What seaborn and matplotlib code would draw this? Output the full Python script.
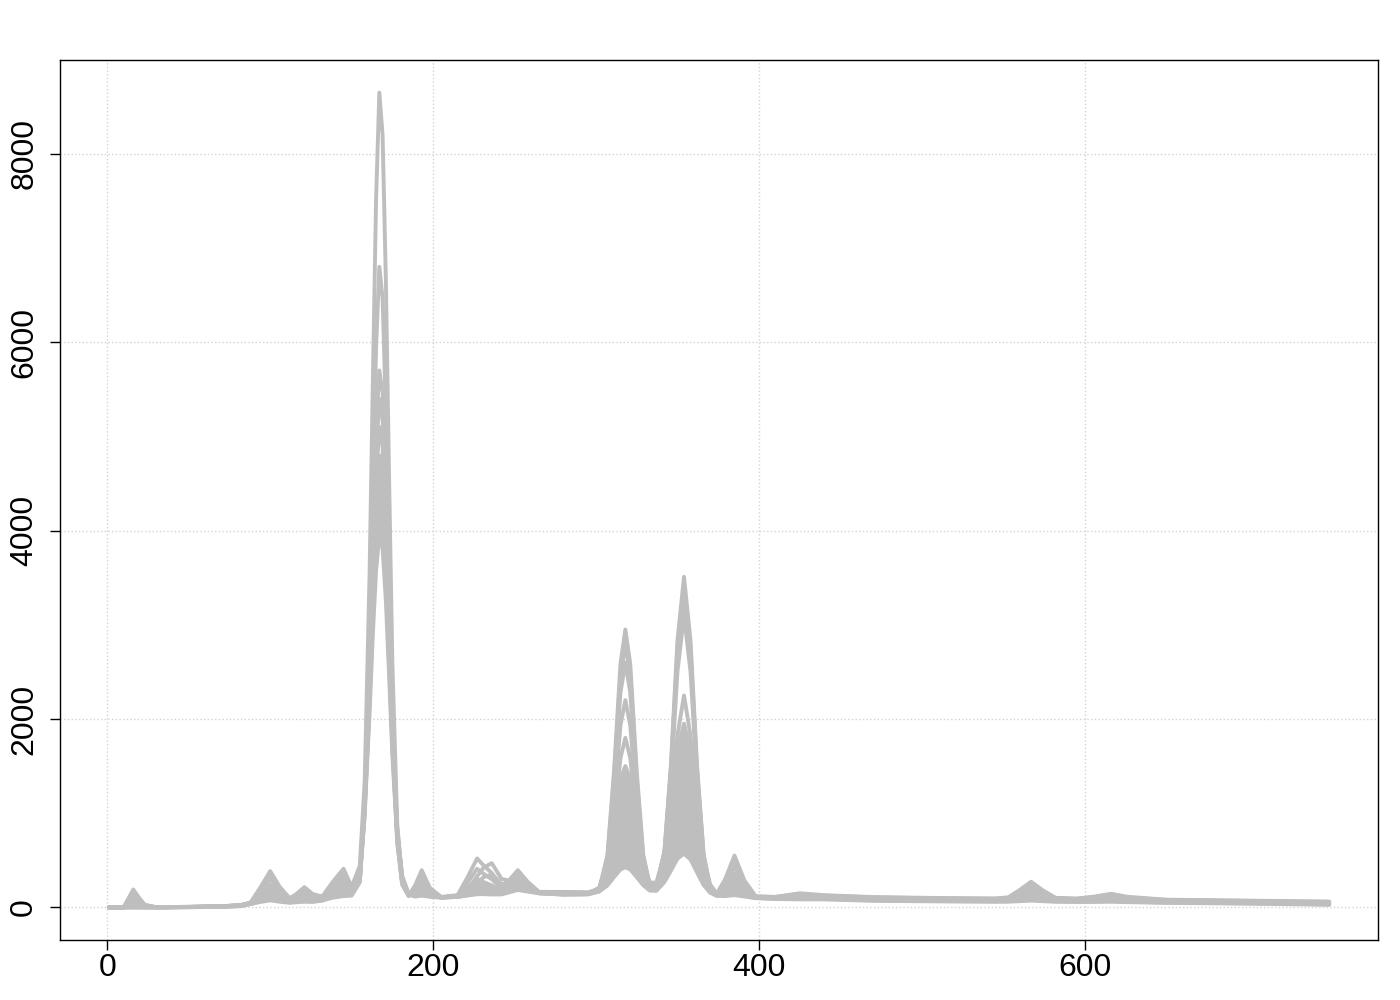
import matplotlib
matplotlib.use("Agg")
import matplotlib.pyplot as plt
import numpy as np
import pandas as pd
import seaborn as sns

# channel positions shared by every trace
channel = [1, 10, 13, 16, 19, 23, 30, 50, 70, 82,
           88, 94, 100, 106, 112, 116, 121, 126, 132, 138,
           145, 150, 155, 158, 161, 163, 165, 167, 169, 171,
           173, 175, 178, 181, 185, 189, 193, 198, 205, 215,
           221, 227, 231, 236, 242, 247, 252, 258, 265, 280,
           295, 302, 307, 311, 315, 318, 321, 325, 329, 333,
           337, 342, 346, 350, 354, 358, 362, 366, 370, 374,
           379, 385, 391, 398, 410, 425, 440, 470, 510, 545,
           553, 560, 567, 574, 582, 595, 606, 616, 626, 650,
           700, 750]

# intensity of each trace at those channels
trace_01 = [0, 0, 95, 190, 114, 28, 2, 5, 10, 22,
            52, 212, 385, 215, 97, 141, 215, 143, 115, 262,
            410, 218, 442, 1336, 3538, 5571, 7519, 8650, 8196, 6668,
            4545, 2589, 885, 277, 123, 236, 395, 208, 111, 130,
            315, 520, 445, 365, 227, 295, 395, 273, 165, 165,
            160, 193, 554, 1438, 2586, 2950, 2586, 1438, 556, 234,
            209, 546, 1358, 2511, 3100, 2501, 1338, 516, 195, 144,
            290, 550, 288, 118, 112, 150, 130, 110, 100, 95,
            107, 184, 273, 184, 102, 94, 115, 145, 113, 82,
            72, 62]
trace_02 = [0, 0, 82, 165, 99, 25, 2, 5, 10, 24,
            50, 190, 340, 192, 92, 132, 200, 135, 109, 240,
            370, 204, 378, 1082, 2814, 4412, 5943, 6800, 6467, 5263,
            3593, 2056, 719, 242, 121, 211, 340, 189, 109, 117,
            185, 330, 423, 470, 302, 284, 360, 255, 162, 160,
            156, 190, 532, 1369, 2456, 2800, 2456, 1369, 534, 231,
            217, 601, 1526, 2839, 3510, 2829, 1506, 571, 207, 143,
            270, 500, 268, 115, 110, 142, 125, 106, 96, 92,
            103, 174, 255, 174, 99, 91, 109, 135, 107, 78,
            69, 58]
trace_03 = [0, 0, 65, 130, 78, 20, 2, 6, 12, 25,
            48, 170, 300, 173, 85, 124, 185, 127, 106, 226,
            345, 195, 339, 1129, 2596, 3931, 5096, 5700, 5461, 4527,
            3244, 2015, 787, 282, 129, 193, 300, 175, 109, 125,
            260, 410, 357, 299, 202, 260, 340, 245, 160, 155,
            152, 187, 503, 1277, 2282, 2600, 2282, 1277, 505, 225,
            212, 573, 1440, 2671, 3300, 2661, 1420, 543, 201, 139,
            241, 430, 239, 112, 107, 135, 118, 100, 92, 88,
            97, 159, 230, 159, 94, 87, 102, 125, 100, 75,
            66, 55]
trace_04 = [0, 0, 45, 90, 54, 14, 1, 5, 11, 22,
            45, 140, 240, 143, 79, 116, 170, 118, 103, 212,
            320, 187, 328, 1076, 2464, 3727, 4829, 5400, 5174, 4290,
            3076, 1913, 751, 273, 128, 180, 270, 164, 108, 115,
            161, 258, 321, 350, 248, 254, 320, 235, 159, 150,
            150, 180, 445, 1093, 1934, 2200, 1934, 1093, 447, 214,
            213, 586, 1481, 2751, 3400, 2741, 1461, 556, 204, 135,
            212, 360, 210, 110, 104, 125, 112, 96, 88, 84,
            92, 144, 205, 144, 89, 82, 96, 115, 94, 72,
            63, 52]
trace_05 = [0, 0, 25, 50, 30, 8, 3, 6, 12, 24,
            43, 120, 200, 123, 73, 105, 150, 107, 99, 201,
            300, 181, 317, 1023, 2332, 3523, 4562, 5100, 4887, 4053,
            2908, 1811, 715, 264, 127, 166, 240, 154, 107, 119,
            205, 300, 269, 233, 180, 234, 300, 225, 157, 148,
            148, 173, 387, 909, 1586, 1800, 1586, 909, 389, 200,
            191, 431, 1009, 1831, 2250, 1821, 989, 401, 171, 127,
            188, 300, 186, 107, 102, 120, 108, 92, 84, 80,
            87, 130, 180, 130, 84, 78, 89, 105, 87, 68,
            60, 48]
trace_06 = [0, 0, 12, 25, 15, 4, 2, 4, 10, 20,
            41, 105, 170, 108, 68, 94, 130, 96, 94, 185,
            270, 171, 304, 970, 2200, 3319, 4295, 4800, 4600, 3816,
            2740, 1709, 679, 255, 126, 153, 210, 143, 106, 117,
            180, 250, 229, 203, 170, 221, 280, 215, 155, 145,
            146, 210, 472, 906, 1365, 1500, 1365, 906, 474, 265,
            262, 565, 1086, 1682, 1950, 1672, 1066, 534, 245, 148,
            175, 260, 169, 105, 100, 110, 102, 88, 80, 76,
            81, 116, 155, 116, 79, 74, 82, 95, 80, 64,
            56, 44]
trace_07 = [0, 0, 5, 10, 6, 2, 1, 4, 9, 18,
            40, 90, 140, 93, 62, 83, 110, 85, 88, 163,
            230, 159, 295, 1154, 2380, 3361, 4162, 4600, 4435, 3792,
            2851, 1864, 834, 338, 139, 139, 180, 133, 106, 115,
            160, 210, 197, 179, 159, 202, 250, 200, 153, 142,
            144, 198, 412, 766, 1140, 1250, 1140, 766, 414, 244,
            245, 506, 956, 1470, 1700, 1460, 936, 476, 227, 142,
            158, 220, 153, 103, 98, 105, 98, 84, 76, 72,
            76, 101, 130, 101, 74, 70, 76, 85, 74, 60,
            52, 40]
trace_08 = [0, 0, 0, 2, 1, 0, 1, 3, 8, 16,
            38, 75, 110, 78, 58, 75, 95, 77, 82, 141,
            190, 147, 285, 1109, 2280, 3217, 3982, 4400, 4242, 3628,
            2729, 1786, 802, 328, 138, 130, 160, 126, 105, 113,
            145, 180, 173, 161, 151, 189, 230, 190, 151, 140,
            142, 186, 352, 626, 915, 1000, 915, 626, 354, 224,
            226, 437, 800, 1215, 1400, 1205, 780, 407, 205, 136,
            146, 190, 141, 101, 96, 100, 95, 80, 72, 68,
            71, 89, 110, 89, 70, 66, 69, 75, 67, 56,
            48, 36]
trace_09 = [0, 0, 0, 0, 0, 0, 0, 3, 7, 15,
            37, 65, 90, 68, 54, 64, 75, 66, 76, 119,
            150, 134, 275, 1064, 2180, 3073, 3802, 4200, 4050, 3464,
            2607, 1708, 770, 318, 136, 121, 140, 119, 105, 112,
            135, 160, 157, 149, 145, 177, 210, 180, 150, 137,
            140, 174, 292, 486, 690, 750, 690, 486, 294, 202,
            201, 345, 592, 875, 1000, 865, 572, 315, 176, 127,
            132, 160, 128, 100, 93, 90, 90, 75, 68, 64,
            66, 77, 90, 77, 65, 62, 64, 68, 62, 52,
            44, 32]
trace_10 = [0, 0, 0, 0, 0, 0, 0, 2, 6, 14,
            36, 58, 75, 60, 49, 55, 60, 58, 72, 102,
            120, 125, 266, 1007, 2055, 2893, 3577, 3950, 3809, 3259,
            2454, 1611, 730, 306, 135, 115, 125, 113, 104, 111,
            125, 140, 141, 137, 138, 161, 185, 168, 150, 135,
            138, 168, 233, 321, 403, 425, 403, 321, 235, 178,
            176, 269, 391, 518, 570, 508, 371, 238, 156, 123,
            120, 130, 116, 98, 90, 85, 85, 70, 64, 60,
            61, 66, 72, 66, 60, 58, 58, 60, 56, 48,
            40, 28]

traces = [trace_01, trace_02, trace_03, trace_04, trace_05,
          trace_06, trace_07, trace_08, trace_09, trace_10]

x_ticks = [0, 200, 400, 600]
y_ticks = [0, 2000, 4000, 6000, 8000]

line_grey = "#BEBEBE"

# long format so seaborn draws one line per trace
df = pd.DataFrame({
    "channel": channel * len(traces),
    "intensity": [v for t in traces for v in t],
    "trace": np.repeat(np.arange(len(traces)), len(channel)),
})

sns.set_theme(style="white")
plt.rcParams["font.family"] = ["Liberation Sans", "DejaVu Sans"]

fig = plt.figure(figsize=(14, 10), dpi=100)
ax = fig.add_axes([0.0429, 0.06, 0.9414, 0.88])

# R-style grid: dotted light gray at the ticks, under the data
ax.set_axisbelow(True)
ax.grid(True, color="#D3D3D3", linestyle=":", linewidth=1.0)

# the lower traces overlap so densely that they read as one solid band
ax.fill_between(channel, trace_10, trace_06, color=line_grey, linewidth=0)

sns.lineplot(data=df, x="channel", y="intensity", units="trace",
             estimator=None, color=line_grey, linewidth=2.8,
             legend=False, ax=ax)

# 4% padding like base R
xmin, xmax = min(channel), max(channel)
ymin, ymax = df["intensity"].min(), df["intensity"].max()
ax.set_xlim(xmin - 0.04 * (xmax - xmin), xmax + 0.04 * (xmax - xmin))
ax.set_ylim(ymin - 0.04 * (ymax - ymin), ymax + 0.04 * (ymax - ymin))

ax.set_xticks(x_ticks)
ax.set_yticks(y_ticks)
ax.set_xticklabels([str(t) for t in x_ticks])
ax.set_yticklabels([str(t) for t in y_ticks], rotation=90, va="center")
ax.set_xlabel("")
ax.set_ylabel("")

ax.tick_params(axis="both", which="major", direction="out", length=7,
               width=1.0, color="black", labelsize=23, labelcolor="black",
               bottom=True, left=True, top=False, right=False)
ax.tick_params(axis="x", pad=2)
ax.tick_params(axis="y", pad=8)

for sp in ax.spines.values():
    sp.set_visible(True)
    sp.set_color("black")
    sp.set_linewidth(1.0)

fig.savefig("out.png", dpi=100, facecolor="white")
